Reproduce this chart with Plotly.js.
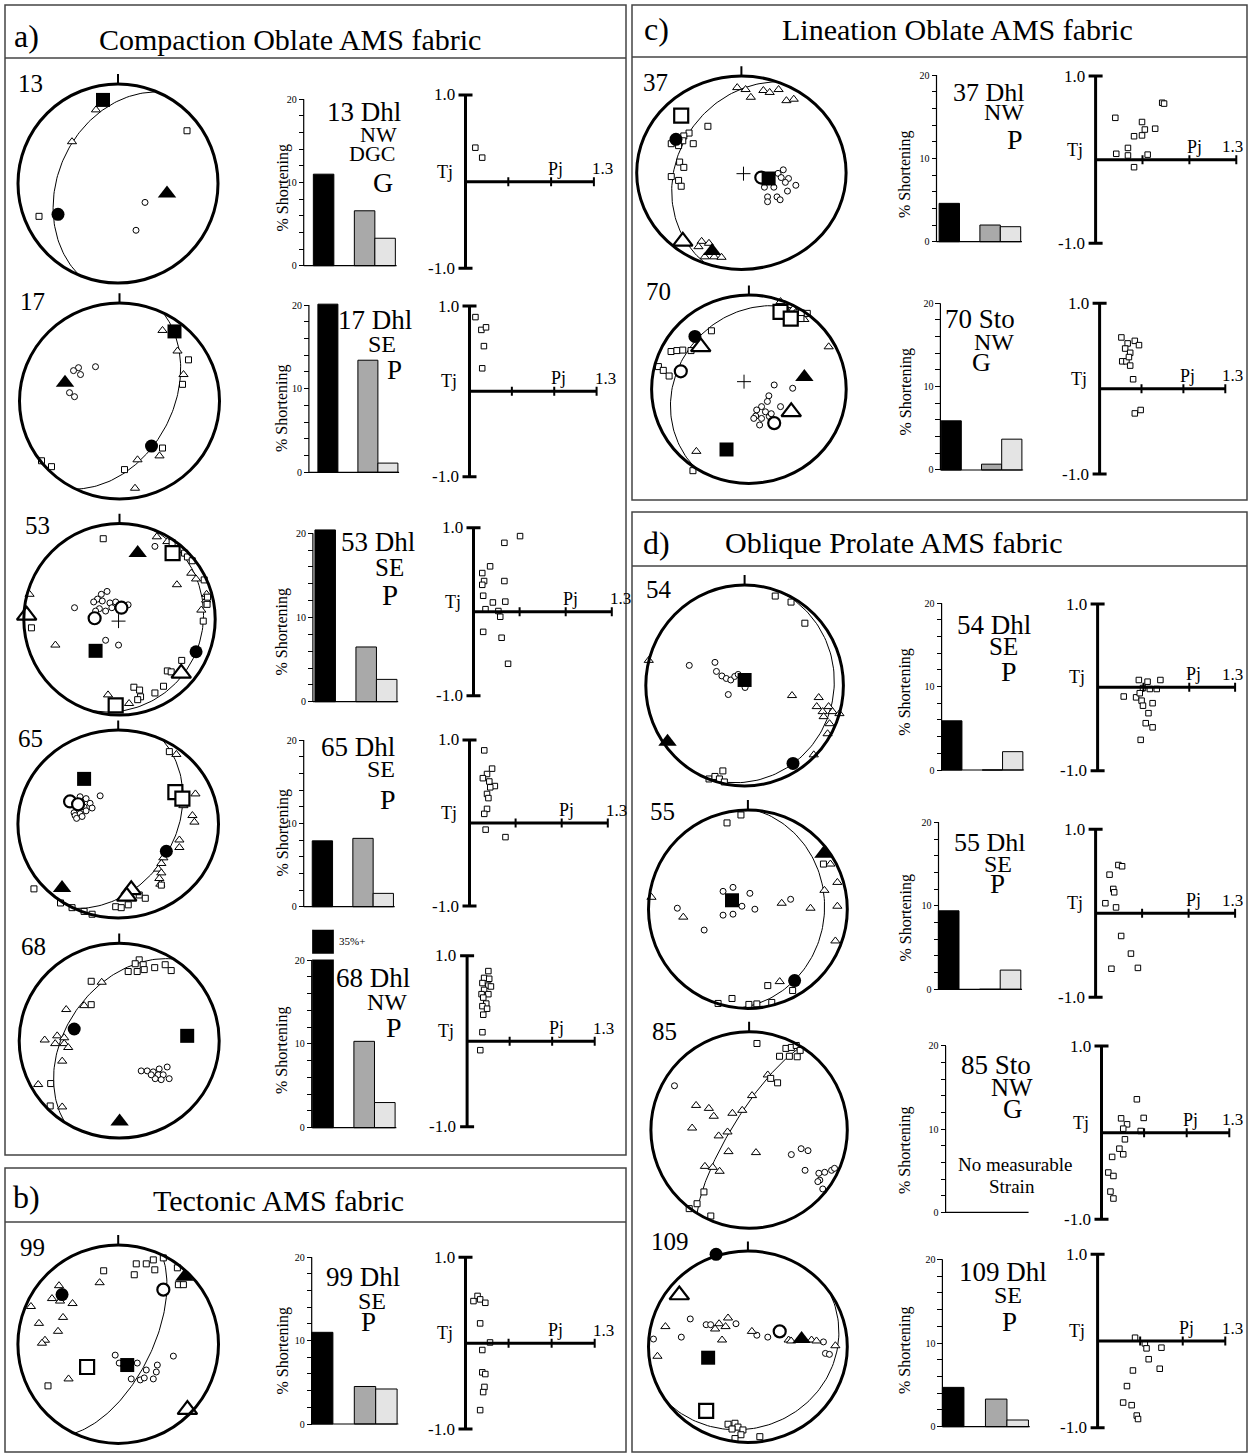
<!DOCTYPE html>
<html><head><meta charset="utf-8">
<script src="https://cdn.plot.ly/plotly-3.0.1.min.js"></script>
<style>html,body{margin:0;padding:0;background:#fff}#chart{width:1248px;height:1454px}</style>
</head><body><div id="chart"></div>
<script>
// ---------------- DATA ----------------
const samples = ['13','17','53','65','68','99','37','70','54','55','85','109'];
const sampleText = [
  ['13 Dhl','NW','DGC','G'], ['17 Dhl','SE','P'], ['53 Dhl','SE','P'], ['65 Dhl','SE','P'],
  ['68 Dhl','NW','P'], ['99 Dhl','SE','P'], ['37 Dhl','NW','P'], ['70 Sto','NW','G'],
  ['54 Dhl','SE','P'], ['55 Dhl','SE','P'], ['85 Sto','NW','G'], ['109 Dhl','SE','P']
];
// % shortening (black, gray, light gray); null = no measurable strain
const shortBlack = [11.0, 20.1, 20.4, 7.9, 35, 11.0, 4.6, 5.9, 5.9, 9.4, null, 4.7];
const shortGray  = [6.6, 13.4, 6.5, 8.2, 10.3, 4.5, 2.0, 0.7, 0, 0, null, 3.3];
const shortLight = [3.3, 1.1, 2.65, 1.6, 3.0, 4.2, 1.8, 3.7, 2.2, 2.3, null, 0.8];
// great-circle planes (dip direction, dip)
const planeDipDir = [293, 116, 108, 116, 303, 116, 290, 304, 112, 95, 302, 145];
const planeDip    = [40, 46, 14, 42, 46, 63, 37, 26, 11, 24, 77, 18];
// stereonet points [type, x, y] in net units
const net13 = [['Q',-0.15,0.84],['t',-0.22,0.74],['t',-0.46,0.42],['q',0.69,0.53],['T',0.49,-0.10],['c',0.27,-0.19],['c',0.18,-0.47],['C',-0.60,-0.31],['q',-0.79,-0.33]];
const net17 = [['Q',0.55,0.71],['t',0.43,0.72],['t',0.58,0.51],['q',0.69,0.42],['t',0.64,0.27],['q',0.63,0.17],['c',-0.41,0.34],['c',-0.24,0.35],['c',-0.46,0.31],['c',-0.39,0.27],['c',-0.50,0.085],['c',-0.45,0.044],['T',-0.545,0.187],['C',0.32,-0.46],['q',0.43,-0.48],['t',0.40,-0.56],['t',0.18,-0.60],['q',0.05,-0.70],['q',-0.78,-0.61],['q',-0.68,-0.67],['t',0.155,-0.89]];
const net53 = [['q',-0.17,0.84],['t',0.39,0.86],['c',0.37,0.76],['T',0.19,0.69],['t',0.50,0.81],['q',0.55,0.80],['Qo',0.555,0.69],['q',0.68,0.69],['q',0.71,0.65],['q',0.76,0.61],['t',0.75,0.48],['t',0.80,0.42],['q',0.885,0.41],['t',0.60,0.36],['t',0.91,0.26],['t',0.905,0.20],['q',0.92,0.23],['q',0.915,0.155],['t',0.855,0.095],['q',0.875,-0.02],['C',0.80,-0.34],['q',0.65,-0.43],['q',0.50,-0.54],['q',0.54,-0.55],['To',0.645,-0.565],['q',0.46,-0.70],['q',0.37,-0.77],['q',0.15,-0.71],['q',0.21,-0.74],['q',0.22,-0.81],['q',0.19,-0.84],['t',0.10,-0.88],['t',-0.12,-0.79],['Qo',-0.04,-0.90],['t',-0.94,0.26],['To',-0.97,0.04],['q',-0.92,-0.09],['t',-0.67,-0.27],['Q',-0.25,-0.33],['c',-0.145,-0.22],['c',-0.01,-0.27],['c',-0.13,0.29],['c',-0.19,0.26],['c',-0.23,0.21],['c',-0.27,0.18],['c',-0.18,0.19],['c',-0.10,0.17],['c',-0.04,0.18],['c',-0.08,0.12],['c',-0.145,0.085],['c',-0.21,0.11],['c',-0.25,0.085],['c',0.09,0.15],['c',-0.47,0.12],['Co',-0.26,0.01],['Co',0.02,0.12],['+',-0.01,-0.02]];
const net65 = [['Q',-0.34,0.48],['c',-0.18,0.30],['Co',-0.48,0.24],['Co',-0.40,0.21],['c',-0.38,0.29],['c',-0.32,0.27],['c',-0.28,0.22],['c',-0.34,0.18],['c',-0.40,0.15],['c',-0.44,0.12],['c',-0.38,0.11],['c',-0.32,0.14],['c',-0.26,0.17],['c',-0.43,0.09],['c',-0.36,0.08],['c',-0.415,0.06],['Qo',0.57,0.34],['Qo',0.64,0.27],['q',0.51,0.77],['t',0.58,0.74],['t',0.77,0.32],['t',0.65,0.195],['t',0.74,0.09],['t',0.76,0.02],['t',0.61,-0.17],['t',0.61,-0.25],['C',0.48,-0.29],['t',0.45,-0.36],['t',0.43,-0.42],['t',0.40,-0.48],['t',0.43,-0.52],['t',0.41,-0.58],['t',0.42,-0.64],['q',0.43,-0.65],['To',0.13,-0.70],['To',0.085,-0.77],['q',0.21,-0.755],['q',0.27,-0.79],['q',-0.025,-0.88],['q',0.03,-0.89],['q',0.10,-0.86],['q',-0.34,-0.93],['q',-0.26,-0.96],['q',-0.46,-0.89],['q',-0.575,-0.84],['q',-0.84,-0.69],['T',-0.56,-0.68]];
const net68 = [['q',0.20,0.83],['q',0.16,0.79],['q',0.24,0.78],['q',0.09,0.71],['q',0.18,0.71],['q',0.25,0.73],['q',0.355,0.75],['q',0.46,0.78],['q',0.52,0.72],['q',-0.28,0.61],['q',-0.28,0.37],['q',-0.685,-0.44],['q',-0.69,-0.67],['t',-0.175,0.60],['t',-0.35,0.36],['t',-0.53,0.32],['t',-0.745,0.007],['t',-0.62,0.05],['t',-0.55,0.03],['t',-0.64,-0.03],['t',-0.55,-0.03],['t',-0.51,-0.07],['t',-0.57,-0.21],['t',-0.81,-0.45],['t',-0.57,-0.68],['C',-0.45,0.12],['Q',0.68,0.05],['c',0.22,-0.31],['c',0.28,-0.31],['c',0.34,-0.32],['c',0.40,-0.29],['c',0.48,-0.27],['c',0.39,-0.35],['c',0.44,-0.35],['c',0.50,-0.39],['c',0.42,-0.40],['c',0.36,-0.39],['c',0.32,-0.35],['T',0.004,-0.83]];
const net99 = [['q',0.35,0.85],['q',0.45,0.87],['q',0.18,0.81],['q',0.28,0.81],['q',0.365,0.75],['q',0.16,0.70],['q',-0.145,0.74],['q',0.59,0.77],['q',0.60,0.60],['q',0.65,0.60],['q',-0.70,-0.42],['T',0.66,0.68],['Co',0.45,0.55],['t',-0.185,0.62],['t',-0.59,0.59],['t',-0.66,0.46],['t',-0.58,0.435],['t',-0.455,0.41],['t',-0.87,0.38],['t',-0.55,0.27],['t',-0.79,0.21],['t',-0.60,0.13],['t',-0.73,0.04],['t',-0.76,0.01],['t',-0.495,-0.35],['C',-0.56,0.50],['Qo',-0.31,-0.23],['Q',0.09,-0.21],['c',-0.03,-0.11],['c',0.045,-0.20],['c',0.19,-0.19],['c',0.28,-0.26],['c',0.39,-0.21],['c',0.38,-0.28],['c',0.55,-0.12],['c',0.13,-0.35],['c',0.22,-0.36],['c',0.26,-0.34],['c',0.35,-0.35],['c',0.01,-0.19],['To',0.69,-0.66]];
const net37 = [['t',-0.04,0.88],['t',0.04,0.86],['t',0.09,0.78],['t',0.21,0.85],['t',0.27,0.83],['t',0.355,0.86],['t',0.43,0.745],['t',0.50,0.76],['t',-0.38,-0.71],['t',-0.31,-0.73],['t',-0.41,-0.765],['t',-0.35,-0.87],['t',-0.26,-0.87],['t',-0.19,-0.875],['Qo',-0.575,0.59],['q',-0.32,0.48],['q',-0.50,0.41],['q',-0.55,0.38],['q',-0.56,0.33],['q',-0.46,0.30],['q',-0.67,0.30],['q',-0.60,0.28],['q',-0.59,0.11],['q',-0.55,0.055],['q',-0.67,-0.04],['q',-0.60,-0.08],['q',-0.575,-0.14],['C',-0.625,0.345],['To',-0.56,-0.71],['T',-0.28,-0.81],['+',0.02,-0.01],['Co',0.19,-0.05],['Q',0.26,-0.06],['c',0.40,0.03],['c',0.35,-0.007],['c',0.38,-0.05],['c',0.45,-0.06],['c',0.42,-0.10],['c',0.52,-0.13],['c',0.22,-0.15],['c',0.31,-0.15],['c',0.44,-0.19],['c',0.25,-0.25],['c',0.34,-0.25],['c',0.37,-0.28],['c',0.25,-0.30]];
const net70 = [['t',0.325,0.93],['t',0.555,0.79],['t',0.82,0.45],['t',0.455,0.85],['t',0.57,0.74],['t',-0.54,-0.66],['Qo',0.325,0.82],['Qo',0.43,0.75],['q',0.33,0.875],['q',0.38,0.83],['q',0.495,0.81],['q',0.54,0.81],['q',0.60,0.805],['q',0.535,0.75],['q',0.41,0.73],['q',-0.385,0.62],['q',-0.80,0.40],['q',-0.74,0.41],['q',-0.68,0.415],['q',-0.595,0.41],['q',-0.93,0.24],['q',-0.88,0.20],['q',-0.82,0.14],['q',-0.575,-0.865],['C',-0.555,0.56],['To',-0.495,0.45],['Co',-0.70,0.19],['T',0.57,0.13],['+',-0.05,0.08],['Q',-0.23,-0.64],['c',0.26,0.045],['c',0.45,0.01],['c',0.205,-0.07],['c',0.325,-0.185],['c',0.19,-0.13],['c',0.13,-0.185],['c',0.08,-0.22],['c',0.17,-0.24],['c',0.07,-0.285],['c',0.13,-0.31],['c',0.21,-0.29],['c',0.23,-0.26],['c',0.11,-0.38],['c',0.05,-0.31],['Co',0.26,-0.36],['To',0.435,-0.24]];
const net54 = [['q',0.31,0.89],['q',0.47,0.83],['q',0.61,0.62],['q',-0.36,-0.93],['q',-0.30,-0.905],['q',-0.255,-0.93],['q',-0.205,-0.96],['q',-0.22,-0.85],['t',-0.97,0.25],['t',0.48,-0.10],['t',0.75,-0.12],['t',0.73,-0.21],['t',0.79,-0.26],['t',0.85,-0.21],['t',0.89,-0.26],['t',0.96,-0.28],['t',0.80,-0.31],['t',0.86,-0.38],['t',0.84,-0.48],['t',0.70,-0.69],['c',-0.56,0.20],['c',-0.30,0.23],['c',-0.285,0.14],['c',-0.23,0.095],['c',-0.185,0.07],['c',-0.14,0.055],['c',-0.10,0.09],['c',0.005,-0.02],['c',-0.165,-0.09],['c',-0.065,0.11],['Q',0.0,0.055],['T',-0.78,-0.56],['C',0.49,-0.775]];
const net55 = [['q',-0.07,0.95],['q',-0.21,0.87],['q',0.76,0.455],['q',0.20,-0.77],['q',0.45,-0.82],['q',-0.30,-0.95],['q',-0.16,-0.90],['q',0.01,-0.96],['q',0.09,-0.955],['q',0.24,-0.94],['T',0.76,0.56],['t',0.83,0.455],['t',0.77,0.19],['t',0.90,0.27],['t',0.90,0.03],['t',0.88,-0.32],['t',0.63,0.01],['t',0.34,0.06],['t',-0.97,0.12],['t',-0.65,-0.08],['t',0.32,-0.73],['c',-0.25,0.18],['c',-0.15,0.22],['c',0.02,0.16],['c',-0.06,0.03],['c',0.07,0.0],['c',-0.25,-0.06],['c',-0.15,-0.05],['c',-0.71,0.01],['c',-0.44,-0.21],['c',0.43,0.10],['Q',-0.16,0.09],['C',0.47,-0.72]];
const net85 = [['q',0.08,0.88],['q',0.375,0.83],['q',0.43,0.84],['q',0.48,0.86],['q',0.31,0.75],['q',0.41,0.75],['q',0.49,0.745],['q',0.52,0.81],['q',0.22,0.525],['q',0.29,0.48],['q',-0.46,-0.63],['q',-0.53,-0.75],['q',-0.61,-0.80],['q',-0.39,-0.875],['t',0.19,0.56],['t',0.03,0.35],['t',-0.07,0.20],['t',-0.17,0.17],['t',-0.54,0.25],['t',-0.41,0.22],['t',-0.36,0.14],['t',-0.58,0.02],['t',-0.31,-0.06],['t',-0.22,-0.02],['t',-0.21,-0.22],['t',0.07,-0.23],['t',-0.45,-0.37],['t',-0.37,-0.38],['t',-0.30,-0.42],['c',-0.76,0.45],['c',0.43,-0.25],['c',0.53,-0.19],['c',0.60,-0.21],['c',0.57,-0.41],['c',0.71,-0.44],['c',0.77,-0.43],['c',0.84,-0.41],['c',0.87,-0.39],['c',0.72,-0.51],['c',0.70,-0.525],['c',0.75,-0.60]];
const net109 = [['C',-0.32,0.965],['To',-0.69,0.54],['t',-0.83,0.21],['t',-0.91,-0.10],['t',-0.20,0.30],['t',-0.29,0.24],['t',-0.225,0.21],['t',-0.33,0.185],['t',-0.26,0.07],['t',0.04,0.16],['t',0.41,0.07],['t',0.64,0.07],['t',0.69,0.06],['t',0.88,0.01],['t',0.435,0.06],['c',-0.95,0.08],['c',-0.58,0.29],['c',-0.67,0.10],['c',-0.42,0.23],['c',-0.375,0.23],['c',-0.12,0.24],['c',0.09,0.12],['c',0.20,0.10],['c',0.76,0.05],['c',0.78,-0.07],['c',0.82,-0.08],['Co',0.32,0.16],['T',0.54,0.08],['Q',-0.40,-0.115],['Qo',-0.42,-0.67],['q',-0.20,-0.81],['q',-0.13,-0.80],['q',-0.10,-0.84],['q',-0.16,-0.86],['q',-0.05,-0.87],['q',-0.07,-0.92],['q',-0.13,-0.96],['q',0.12,-0.94]];
// Pj-Tj points [Pj, Tj]
const tj13 = [[1.023,0.392],[1.039,0.277]];
const tj17 = [[1.014,0.87],[1.028,0.72],[1.039,0.75],[1.034,0.53],[1.030,0.27]];
const tj53 = [[1.101,0.90],[1.067,0.82],[1.036,0.54],[1.019,0.46],[1.023,0.365],[1.067,0.365],[1.019,0.32],[1.021,0.19],[1.042,0.11],[1.069,0.12],[1.026,0.03],[1.054,0.008],[1.058,-0.06],[1.021,-0.24],[1.061,-0.31],[1.075,-0.62]];
const tj65 = [[1.032,0.875],[1.049,0.655],[1.038,0.59],[1.029,0.54],[1.043,0.50],[1.055,0.445],[1.045,0.43],[1.038,0.35],[1.041,0.30],[1.038,0.17],[1.032,0.11],[1.035,-0.08],[1.078,-0.17]];
const tj68 = [[1.050,0.82],[1.040,0.74],[1.052,0.73],[1.036,0.68],[1.050,0.65],[1.040,0.60],[1.034,0.55],[1.050,0.55],[1.038,0.51],[1.045,0.44],[1.036,0.41],[1.047,0.38],[1.038,0.31],[1.036,0.105],[1.031,-0.105],[1.056,0.64]];
const tj99 = [[1.0185,0.49],[1.028,0.55],[1.034,0.51],[1.046,0.47],[1.034,0.23],[1.057,0.008],[1.039,-0.08],[1.039,-0.34],[1.046,-0.36],[1.044,-0.51],[1.041,-0.57],[1.034,-0.78]];
const tj37 = [[1.042,0.50],[1.142,0.68],[1.146,0.67],[1.099,0.45],[1.105,0.36],[1.127,0.37],[1.082,0.28],[1.099,0.29],[1.044,0.07],[1.069,0.14],[1.069,0.05],[1.111,0.06],[1.082,-0.09]];
const tj70 = [[1.052,0.60],[1.067,0.53],[1.084,0.56],[1.094,0.51],[1.061,0.47],[1.073,0.42],[1.054,0.32],[1.064,0.32],[1.073,0.27],[1.080,0.11],[1.084,-0.29],[1.098,-0.25],[1.070,0.37]];
const tj54 = [[1.090,0.088],[1.109,0.068],[1.137,0.088],[1.099,-0.008],[1.114,-0.02],[1.129,-0.02],[1.057,-0.11],[1.084,-0.12],[1.096,-0.16],[1.099,-0.22],[1.120,-0.19],[1.111,-0.31],[1.105,-0.43],[1.120,-0.48],[1.094,-0.63],[1.092,-0.07]];
const tj55 = [[1.049,0.575],[1.057,0.56],[1.030,0.46],[1.038,0.29],[1.040,0.25],[1.021,0.12],[1.044,0.07],[1.055,-0.27],[1.076,-0.48],[1.034,-0.66],[1.091,-0.65]];
const tj85 = [[1.083,0.385],[1.046,0.165],[1.099,0.17],[1.060,0.096],[1.051,0.046],[1.092,0.019],[1.055,-0.077],[1.042,-0.185],[1.051,-0.25],[1.025,-0.28],[1.016,-0.46],[1.028,-0.50],[1.021,-0.68],[1.028,-0.76]];
const tj109 = [[1.088,0.038],[1.111,-0.027],[1.115,-0.085],[1.150,-0.077],[1.120,-0.21],[1.146,-0.32],[1.083,-0.34],[1.069,-0.52],[1.060,-0.71],[1.080,-0.74],[1.092,-0.86],[1.095,-0.90]];
const panelLetters = ['a)','b)','c)','d)'];
const panelTitles = ['Compaction Oblate AMS fabric','Tectonic AMS fabric','Lineation Oblate AMS fabric','Oblique Prolate AMS fabric'];
const barTickVals = [0,2,4,6,8,10,12,14,16,18,20];
const barTickText = ['0','','','','','10','','','','','20'];
const tjAxisLabels = ['1.0','-1.0','Tj','Pj','1.3'];
const noStrainText = ['No measurable','Strain'];
const brokenBarText = '35%+';

const nets = [net13,net17,net53,net65,net68,net99,net37,net70,net54,net55,net85,net109];
const tjs = [tj13,tj17,tj53,tj65,tj68,tj99,tj37,tj70,tj54,tj55,tj85,tj109];

// ---------------- LAYOUT GEOMETRY (pixels) ----------------
const W = 1248, H = 1454;
const FONT = 'Liberation Serif, Times New Roman, Times, serif';
const X = p => p / W, Y = p => 1 - p / H;
// net:[cx,cy,rx,ry] bar:[axisX, bar1 center, bar width, y of 0, y of 20] tj:[x Pj1.0, x Pj1.3, y Tj1, y Tj-1]
const ROWS = [
 {col:0, net:[118,183.5,100,99.5], num:[31,83.5], bar:[303.7,323.6,20.5,265.7,99.3], lab:187.5, tj:[465.5,593.9,95,268.3], txt:[[364.3,112.5,27],[378.2,134.7,22],[371.7,153.5,22],[382.6,183,28]]},
 {col:0, net:[119.5,401,100,98], num:[32,301.7], bar:[308.9,327.9,20,472.3,305], lab:408, tj:[469.5,596.6,306,476.7], txt:[[375.2,320,27],[382,344,24],[394,369.5,27]]},
 {col:0, net:[119.5,619.2,95.7,95.8], num:[37,525], bar:[312.9,325.2,20.5,701.7,533.3], lab:631.5, tj:[473.5,611.8,527.7,695.7], txt:[[378,542,27],[389.6,567,25],[389.6,594.5,29]]},
 {col:0, net:[118.2,824,100.3,94], num:[30,738.5], bar:[303.7,322.4,20.3,906.7,740], lab:832.5, tj:[469.5,607.8,740,906], txt:[[357.7,746.5,27],[380.6,768.5,24],[387.6,799.5,28]]},
 {col:0, net:[119.2,1040.7,100,97.4], num:[33.5,946.5], bar:[311.7,323,20.6,1127.7,960], top:23.6, lab:1050, tj:[467.1,594.7,955.7,1126.7], txt:[[373.2,978,27],[387.2,1002,24],[393.5,1027.5,28]]},
 {col:0, net:[118.2,1344.2,100.3,99.2], num:[32,1247.5], bar:[311.7,322.2,21.4,1424,1257.3], lab:1350.5, tj:[465.5,594.7,1257.3,1429], txt:[[362.7,1276.5,27],[371.7,1301,24],[368.7,1321.5,27]]},
 {col:1, net:[741.4,172.7,104.7,96.7], num:[655.5,82.5], bar:[936.5,949.3,20.4,241.7,75], lab:174, tj:[1095.6,1236.3,76,243.3], txt:[[988.6,92,26],[1004.4,112.5,24],[1015,139.5,28]]},
 {col:1, net:[748.9,389.2,97.3,94.2], num:[658.5,291], bar:[940.4,951.2,20.2,470,303.3], lab:391.5, tj:[1099.6,1225.3,303.3,474], txt:[[980,318.5,27],[993.5,342,24],[981.7,362.5,26]]},
 {col:1, net:[744.6,685.5,98.8,100.5], num:[658.5,589], bar:[941.6,951.8,20.3,770,603.3], lab:691.7, tj:[1097.6,1235.1,604,770.7], txt:[[993.5,624.5,27],[1003.3,646.5,25],[1009.2,671.5,28]]},
 {col:1, net:[747.9,909.2,99.4,99.2], num:[662.5,811.5], bar:[938.5,948.7,20.6,989.3,822.3], lab:917.5, tj:[1095.6,1235.1,829.3,997.3], txt:[[989.5,842,26],[998.4,864,24],[997.4,884,27]]},
 {col:1, net:[749.1,1130,98.2,98.3], num:[664,1031], bar:[945.6,955.6,20.5,1212.3,1046], lab:1150, tj:[1101.5,1229.3,1046,1219.3], txt:[[996.4,1065.3,27],[1012.2,1087,25],[1012.8,1109,27]]},
 {col:1, net:[747.9,1346.7,99.4,95.7], num:[669.5,1241], bar:[942.4,953.2,21.5,1426.7,1259.3], lab:1350, tj:[1097.6,1225.3,1254.3,1427.7], txt:[[1003.3,1272,27],[1008.3,1294.5,24],[1009.2,1322,27]]}
];
const PANELS = [
 {rect:[5,5,626,1155], hline:58, letter:[26,36], title:[290,40]},
 {rect:[5,1168,626,1452], hline:1222, letter:[26,1197], title:[278,1200]},
 {rect:[632,5,1247,500], hline:57, letter:[656,29], title:[957,30]},
 {rect:[632,512,1247,1452], hline:566, letter:[656,543], title:[893,543]}
];
const STY = {
 '+':{symbol:'cross-thin',size:10,color:'#000',line:{color:'#000',width:1}},
 c:{symbol:'circle',size:6,color:'#fff',line:{color:'#000',width:1}},
 t:{symbol:'triangle-up',size:8,color:'#fff',line:{color:'#000',width:1}},
 q:{symbol:'square',size:6,color:'#fff',line:{color:'#000',width:1}},
 Co:{symbol:'circle',size:12,color:'#fff',line:{color:'#000',width:2.2}},
 To:{symbol:'triangle-up',size:17,color:'#fff',line:{color:'#000',width:2.2}},
 Qo:{symbol:'square',size:14,color:'#fff',line:{color:'#000',width:2.2}},
 C:{symbol:'circle',size:13,color:'#000',line:{width:0}},
 T:{symbol:'triangle-up',size:16,color:'#000',line:{width:0}},
 Q:{symbol:'square',size:14,color:'#000',line:{width:0}}
};
const ORDER = ['+','c','t','q','Co','To','Qo','C','T','Q'];
const BARCOL = ['#000000','#a9a9a9','#e4e4e4'];

// ---------------- BUILD ----------------
const layout = {width:W, height:H, margin:{l:0,r:0,t:0,b:0}, paper_bgcolor:'#fff', plot_bgcolor:'rgba(0,0,0,0)', showlegend:false, shapes:[], annotations:[], font:{family:FONT,color:'#000'}};
const traces = [];
let nAx = 0;
function addAxes(xd, yd, xr, yr) {
  nAx++; const s = nAx === 1 ? '' : String(nAx);
  layout['xaxis'+s] = {visible:false, fixedrange:true, domain:xd, range:xr, anchor:'y'+s};
  layout['yaxis'+s] = {visible:false, fixedrange:true, domain:yd, range:yr, anchor:'x'+s};
  return {x:'x'+s, y:'y'+s, xa:layout['xaxis'+s], ya:layout['yaxis'+s]};
}
function line(ax, x0, y0, x1, y1, w) {
  layout.shapes.push({type:'line', xref:ax.x, yref:ax.y, x0, y0, x1, y1, line:{color:'#000', width:w}});
}
function ann(text, px, py, size, opts) {
  layout.annotations.push(Object.assign({text, x:X(px), y:Y(py), xref:'paper', yref:'paper', showarrow:false,
    xanchor:'center', yanchor:'middle', font:{family:FONT, size, color:'#000'}}, opts || {}));
}
function greatCircle(dd, dip) {
  const r = Math.PI/180, xs = [], ys = [];
  const s = [Math.sin((dd-90)*r), Math.cos((dd-90)*r), 0];
  const d = [Math.sin(dd*r)*Math.cos(dip*r), Math.cos(dd*r)*Math.cos(dip*r), Math.sin(dip*r)];
  for (let a = 0; a <= 180; a += 2) {
    const c = Math.cos(a*r), sn = Math.sin(a*r);
    const v = [c*s[0]+sn*d[0], c*s[1]+sn*d[1], c*s[2]+sn*d[2]];
    const pl = Math.asin(Math.max(-1, Math.min(1, v[2])));
    const tr = Math.atan2(v[0], v[1]);
    const rr = Math.SQRT2 * Math.sin((Math.PI/2 - pl)/2);
    xs.push(rr*Math.sin(tr)); ys.push(rr*Math.cos(tr));
  }
  return [xs, ys];
}

ROWS.forEach((g, i) => {
  // ---- stereonet ----
  const [cx, cy, rx, ry] = g.net;
  const na = addAxes([X(cx-1.1*rx), X(cx+1.1*rx)], [Y(cy+1.06*ry), Y(cy-1.14*ry)], [-1.1,1.1], [-1.06,1.14]);
  layout.shapes.push({type:'circle', xref:na.x, yref:na.y, x0:-1, x1:1, y0:-1, y1:1, line:{color:'#000', width:3}});
  line(na, 0, 1, 0, 1.1, 2);
  const [gx, gy] = greatCircle(planeDipDir[i], planeDip[i]);
  traces.push({type:'scatter', mode:'lines', x:gx, y:gy, xaxis:na.x, yaxis:na.y, line:{color:'#000', width:1}, hoverinfo:'skip', cliponaxis:false});
  ORDER.forEach(k => {
    const pts = nets[i].filter(p => p[0] === k);
    if (!pts.length) return;
    traces.push({type:'scatter', mode:'markers', x:pts.map(p=>p[1]), y:pts.map(p=>p[2]), xaxis:na.x, yaxis:na.y,
      marker:STY[k], hoverinfo:'skip', cliponaxis:false});
  });
  ann(samples[i], g.num[0], g.num[1], 25);

  // ---- bar chart ----
  const [axX, c1, bw, b0, b20] = g.bar;
  const top = g.top || 21;
  const a = (axX - c1) / bw;
  const yp = v => b0 + v * (b20 - b0) / 20;
  const ba = addAxes([X(axX - 0.4*bw), X(c1 + 3.8*bw)], [Y(yp(-0.5)), Y(yp(top))], [a - 0.4, 3.8], [-0.5, top]);
  Object.assign(ba.ya, {visible:true, anchor:'free', position:X(axX), showline:false, showgrid:false, zeroline:false,
    ticks:'outside', ticklen:5, tickwidth:1, tickcolor:'#000', tickvals:barTickVals, ticktext:barTickText,
    tickfont:{family:FONT, size:10, color:'#000'}});
  line(ba, a, 0, a, 20, 1.2);
  line(ba, a, 0, 3.56, 0, 1.2);
  const vals = [shortBlack[i], shortGray[i], shortLight[i]];
  const bx = [], by = [], bc = [];
  vals.forEach((v, k) => { if (v !== null) { bx.push(k === 0 ? 0 : k + 1); by.push(v); bc.push(BARCOL[k]); } });
  if (bx.length) traces.push({type:'bar', x:bx, y:by, width:bx.map(()=>1), xaxis:ba.x, yaxis:ba.y,
    marker:{color:bc, line:{color:'#000', width:1}}, hoverinfo:'skip'});
  if (shortBlack[i] !== null && shortBlack[i] > top) {
    layout.shapes.push({type:'rect', xref:ba.x, yref:ba.y, x0:-0.7, x1:0.7, y0:20.05, y1:20.75, fillcolor:'#fff', line:{width:0}});
    layout.annotations.push({text:brokenBarText, xref:ba.x, yref:ba.y, x:0.7, y:22.3, xanchor:'left', yanchor:'middle', showarrow:false, font:{family:FONT, size:11, color:'#000'}});
  }
  if (shortBlack[i] === null) {
    ann(noStrainText[0], c1 + 2.9*bw, yp(5.7), 19);
    ann(noStrainText[1], c1 + 2.75*bw, yp(3.1), 19);
  }
  ann('% Shortening', g.col === 0 ? 282 : 905, g.lab, 16, {textangle:-90});
  sampleText[i].forEach((t, k) => ann(t, g.txt[k][0], g.txt[k][1], g.txt[k][2]));

  // ---- Tj / Pj plot ----
  const [P0, P13, T1, Tm1] = g.tj;
  const xp = p => P0 + (p - 1) * (P13 - P0) / 0.3;
  const T0 = (T1 + Tm1) / 2, half = (Tm1 - T1) / 2;
  const tp = t => T0 - t * half;
  const ta = addAxes([X(xp(0.92)), X(xp(1.32))], [Y(tp(-1.1)), Y(tp(1.1))], [0.92, 1.32], [-1.1, 1.1]);
  line(ta, 1, -1, 1, 1, 3);
  line(ta, 1, 0, 1.3, 0, 3);
  const dx = 7 * 0.3 / (P13 - P0), dy = 4.5 / half;
  line(ta, 1-dx, 1, 1+dx, 1, 3);
  line(ta, 1-dx, -1, 1+dx, -1, 3);
  [1.1, 1.2, 1.3].forEach(v => line(ta, v, -dy, v, dy, 2));
  traces.push({type:'scatter', mode:'markers', x:tjs[i].map(p=>p[0]), y:tjs[i].map(p=>p[1]), xaxis:ta.x, yaxis:ta.y,
    marker:{symbol:'square', size:5.5, color:'#fff', line:{color:'#000', width:1}}, hoverinfo:'skip', cliponaxis:false});
  ann(tjAxisLabels[0], P0 - 9, T1, 17, {xanchor:'right'});
  ann(tjAxisLabels[1], P0 - 9, Tm1, 17, {xanchor:'right'});
  ann(tjAxisLabels[2], P0 - 21, T0 - 10, 18);
  ann(tjAxisLabels[3], xp(1.21), T0 - 13, 18);
  ann(tjAxisLabels[4], Math.min(P13 + 9, 1232), T0 - 13, 17);
});

PANELS.forEach((p, i) => {
  const [x0, y0, x1, y1] = p.rect;
  layout.shapes.push({type:'rect', xref:'paper', yref:'paper', x0:X(x0), x1:X(x1), y0:Y(y1), y1:Y(y0), line:{color:'#444', width:1.5}});
  layout.shapes.push({type:'line', xref:'paper', yref:'paper', x0:X(x0), x1:X(x1), y0:Y(p.hline), y1:Y(p.hline), line:{color:'#444', width:1.5}});
  ann(panelLetters[i], p.letter[0], p.letter[1], 32);
  ann(panelTitles[i], p.title[0], p.title[1], 30);
});

Plotly.newPlot('chart', traces, layout, {staticPlot:true, displayModeBar:false});
</script></body></html>
